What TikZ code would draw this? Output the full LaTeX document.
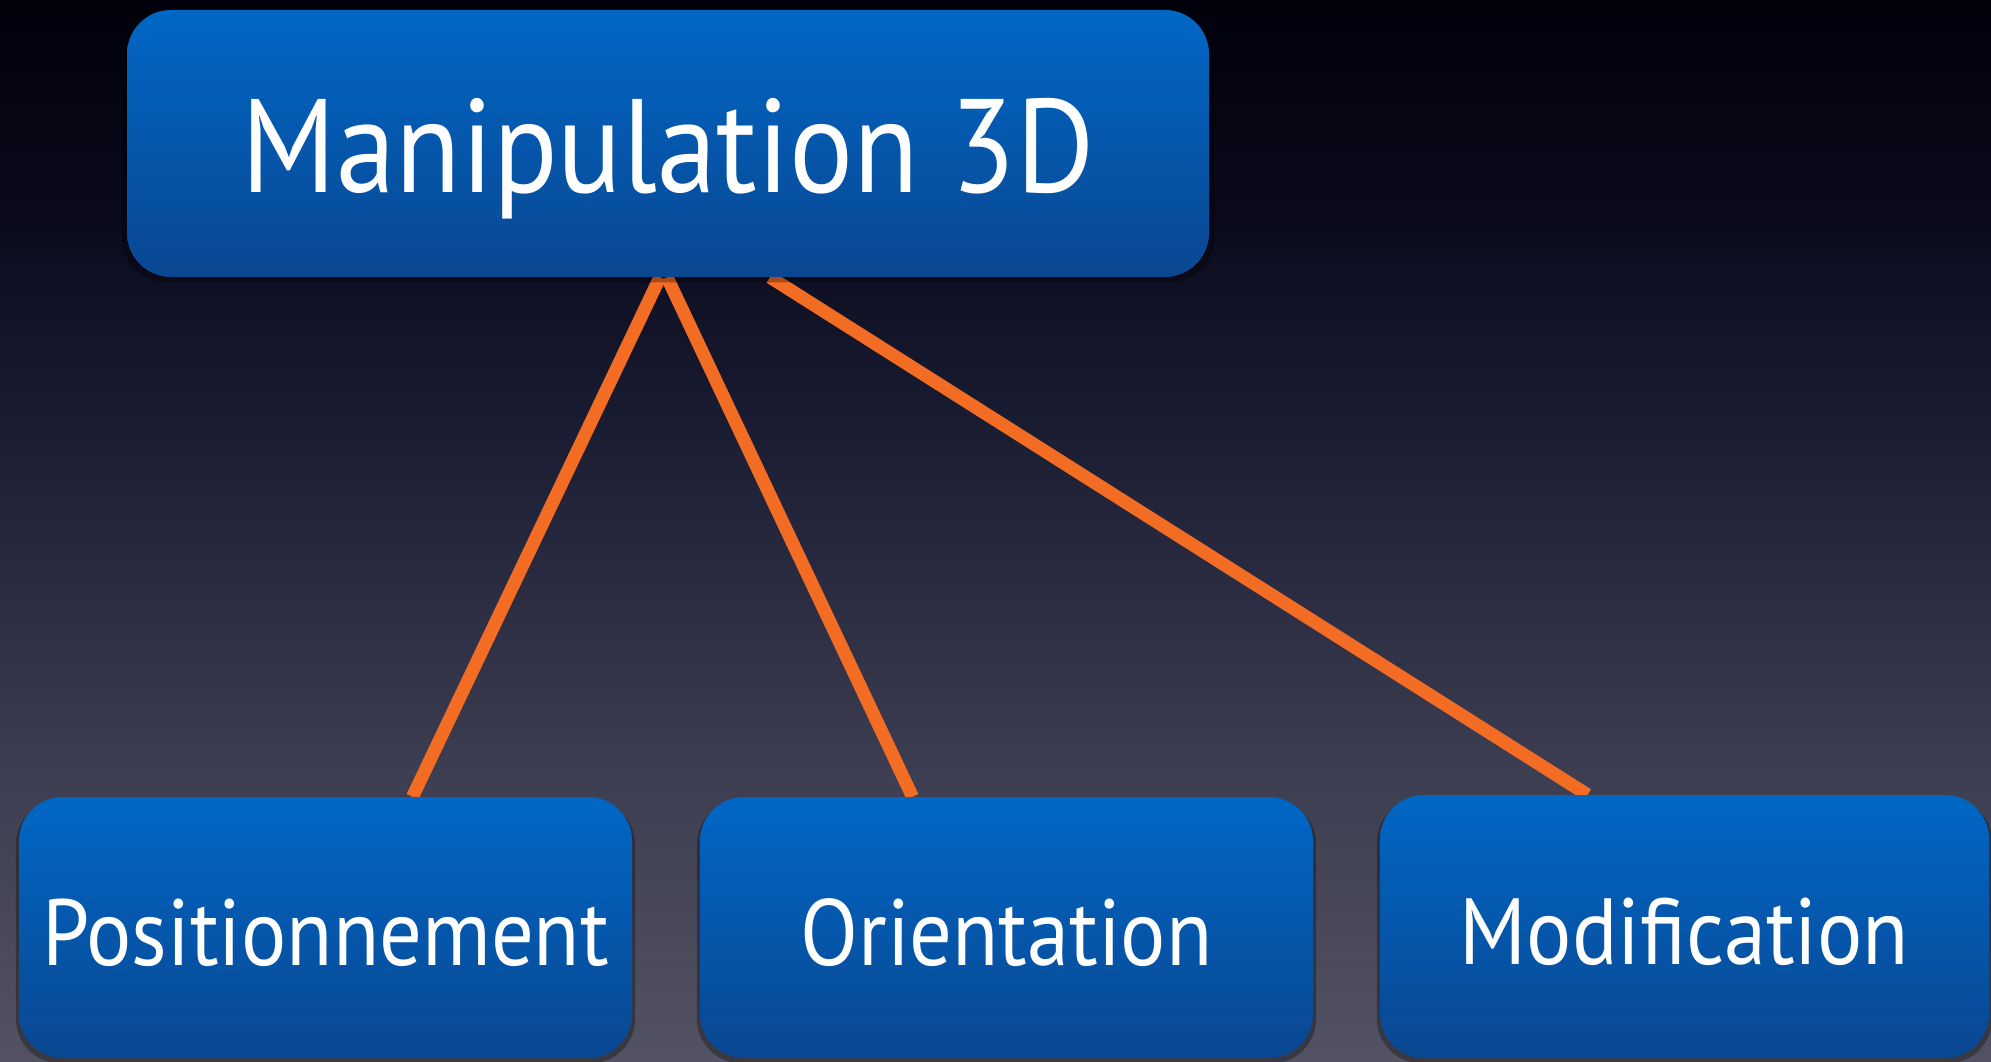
\documentclass[tikz,border=0pt]{standalone}
\usepackage{fontspec}
\setmainfont{PT Sans}[FakeStretch=0.9]
\usetikzlibrary{shadows,calc}
\pgfdeclarelayer{bg}
\pgfsetlayers{bg,main}
\definecolor{linec}{RGB}{243,108,36}
\definecolor{boxtop}{RGB}{0,103,197}
\definecolor{boxbot}{RGB}{10,71,146}
\definecolor{bgA}{RGB}{82,82,98}
\definecolor{bgB}{RGB}{62,62,82}
\definecolor{bgC}{RGB}{24,26,48}
\definecolor{bgD}{RGB}{10,10,28}
\definecolor{bgE}{RGB}{1,1,12}
\pgfdeclareverticalshading{bgshade}{100bp}{color(0bp)=(bgA); color(25bp)=(bgA); color(38.5bp)=(bgB); color(56bp)=(bgC); color(65bp)=(bgD); color(75bp)=(bgE); color(100bp)=(bgE)}
\begin{document}
\begin{tikzpicture}[x=1pt,y=1pt,
  box/.style={rounded corners=44pt, top color=boxtop, bottom color=boxbot, text=white, inner sep=0pt,
    drop shadow={fill=black, opacity=0.3, shadow xshift=0pt, shadow yshift=-4pt, shadow scale=1.01}},
  bigtext/.style={font=\fontsize{133}{133}\selectfont, text height=99pt, text depth=0pt},
  smalltext/.style={font=\fontsize{94}{94}\selectfont, text height=75pt, text depth=0pt},
  conn/.style={draw=linec, line width=13pt}]
\useasboundingbox (0,0) rectangle (1991,1061);
\node[box, bigtext, minimum width=1082pt, minimum height=267pt] (top) at (668,917.5) {Manipulation 3D};
\node[box, smalltext, minimum width=613pt, minimum height=261pt] (pos) at (325.5,133.5) {Positionnement};
\node[box, smalltext, minimum width=613pt, minimum height=261pt] (ori) at (1006.5,133.5) {Orientation};
\node[box, smalltext, minimum width=609pt, minimum height=263pt] (mod) at (1684.5,134.5) {Modification};
\begin{pgfonlayer}{bg}
\shade[shading=bgshade] (0,0) rectangle (1991,1061);
\draw[conn] ([xshift=-8pt]top.south) -- ([xshift=87pt]pos.north);
\draw[conn] ([xshift=-1pt]top.south) -- ([xshift=-94pt]ori.north);
\draw[conn] ([xshift=102pt]top.south) -- ([xshift=-97pt]mod.north);
\end{pgfonlayer}
\end{tikzpicture}
\end{document}
